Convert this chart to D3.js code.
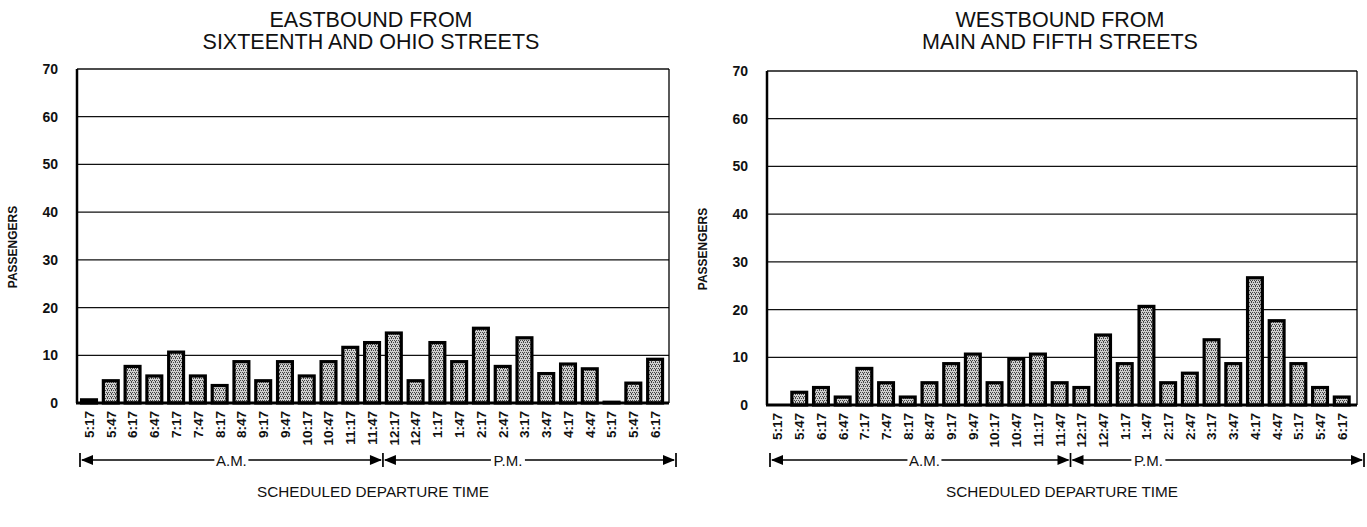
<!DOCTYPE html>
<html>
<head>
<meta charset="utf-8">
<script src="https://cdn.jsdelivr.net/npm/d3@7"></script>
<style>
  html, body { margin: 0; padding: 0; background: #fff; }
  svg { display: block; }
</style>
</head>
<body>
<svg id="chart" width="1367" height="527"></svg>
<script>
// ---- DATA ----
const categories = ["5:17","5:47","6:17","6:47","7:17","7:47","8:17","8:47","9:17","9:47","10:17","10:47","11:17","11:47",
                    "12:17","12:47","1:17","1:47","2:17","2:47","3:17","3:47","4:17","4:47","5:17","5:47","6:17"];
const eastboundValues = [1, 5, 8, 6, 11, 6, 4, 9, 5, 9, 6, 9, 12, 13, 15, 5, 13, 9, 16, 8, 14, 6.5, 8.5, 7.5, 0.5, 4.5, 9.5];
const westboundValues = [0, 3, 4, 2, 8, 5, 2, 5, 9, 11, 5, 10, 11, 5, 4, 15, 9, 21, 5, 7, 14, 9, 27, 18, 9, 4, 2];
const yTicks = [0, 10, 20, 30, 40, 50, 60, 70];
const eastboundTitle = ["EASTBOUND FROM", "SIXTEENTH AND OHIO STREETS"];
const westboundTitle = ["WESTBOUND FROM", "MAIN AND FIFTH STREETS"];
const yAxisTitle = "PASSENGERS";
const xAxisTitle = "SCHEDULED DEPARTURE TIME";
const periodLabels = ["A.M.", "P.M."];
const pmStartIndex = 14;

// ---- LAYOUT ----
const panels = [
  { left: 77,  right: 669,  top: 69, bottom: 403, title: eastboundTitle, values: eastboundValues, yTitleX: 17, align: 0.38, labelPos: [0.254, 0.718] },
  { left: 767, right: 1357, top: 71, bottom: 405, title: westboundTitle, values: westboundValues, yTitleX: 707, align: 0.2, labelPos: [0.26, 0.637] }
];

const svg = d3.select("#chart");
const defs = svg.append("defs");
const pat = defs.append("pattern").attr("id", "stipple").attr("patternUnits", "userSpaceOnUse")
  .attr("width", 4).attr("height", 4);
pat.append("rect").attr("width", 4).attr("height", 4).attr("fill", "#cfcfcf");
[[0,0],[2,0],[1,2],[3,2],[3,1]].forEach(([x,y]) => pat.append("rect").attr("x", x).attr("y", y).attr("width", 1).attr("height", 1).attr("fill", "#444"));

const bodyFont = "'Liberation Sans', Arial, Helvetica, sans-serif";

panels.forEach(p => {
  const g = svg.append("g");
  const x = d3.scaleBand().domain(d3.range(categories.length)).range([p.left, p.right])
    .paddingInner(0.17).paddingOuter(0.18).align(p.align);
  const y = d3.scaleLinear().domain([0, 70]).range([p.bottom, p.top]);
  const cx = (p.left + p.right) / 2;

  // title
  p.title.forEach((t, i) => {
    g.append("text").attr("x", cx - 2).attr("y", 27 + i * 22)
      .attr("text-anchor", "middle").attr("font-family", bodyFont).attr("font-size", 21.5)
      .attr("fill", "#111").text(t);
  });

  // gridlines
  g.append("g").selectAll("line").data(yTicks.filter(d => d > 0)).join("line")
    .attr("x1", p.left).attr("x2", p.right)
    .attr("y1", d => y(d)).attr("y2", d => y(d))
    .attr("stroke", "#111").attr("stroke-width", d => d === 70 ? 1.6 : 1.3);

  // y tick labels via axis
  const yAxis = d3.axisLeft(y).tickValues(yTicks).tickSize(0).tickPadding(19);
  const ya = g.append("g").attr("transform", `translate(${p.left},0)`).call(yAxis);
  ya.select(".domain").remove();
  ya.selectAll("text").attr("font-family", bodyFont).attr("font-size", 14).attr("font-weight", "bold").attr("fill", "#111");

  // frame
  g.append("line").attr("x1", p.left).attr("x2", p.left).attr("y1", p.top).attr("y2", p.bottom)
    .attr("stroke", "#000").attr("stroke-width", 2.5);
  g.append("line").attr("x1", p.right).attr("x2", p.right).attr("y1", p.top).attr("y2", p.bottom)
    .attr("stroke", "#000").attr("stroke-width", 1.3);

  // bars
  const sw = 3.2;
  g.append("g").selectAll("rect").data(p.values.map((v, i) => ({ v, i }))).join("rect")
    .filter(d => d.v > 0)
    .attr("x", d => x(d.i) + sw / 2)
    .attr("width", x.bandwidth() - sw)
    .attr("y", d => y(d.v) + sw / 2)
    .attr("height", d => Math.max(0, y(0) - y(d.v) - sw / 2))
    .attr("fill", "url(#stipple)")
    .attr("stroke", "#000").attr("stroke-width", sw);

  // baseline
  g.append("line").attr("x1", p.left - 1).attr("x2", p.right).attr("y1", y(0)).attr("y2", y(0))
    .attr("stroke", "#000").attr("stroke-width", 3);

  // x tick labels via axis
  const xAxis = d3.axisBottom(x).tickFormat(i => categories[i]).tickSize(0).tickPadding(0);
  const xa = g.append("g").attr("transform", `translate(0,${p.bottom + 8})`).call(xAxis);
  xa.select(".domain").remove();
  xa.selectAll("text")
    .attr("font-family", bodyFont).attr("font-size", 13.5).attr("font-weight", "bold").attr("fill", "#111")
    .attr("transform", "rotate(-90)")
    .attr("text-anchor", "end").attr("x", 0).attr("y", 0).attr("dy", "0.36em");

  // y axis title
  g.append("text").attr("transform", `translate(${p.yTitleX},${(p.top + p.bottom) / 2 + 11}) rotate(-90)`)
    .attr("text-anchor", "middle").attr("font-family", bodyFont).attr("font-size", 12).attr("font-weight", "bold")
    .attr("fill", "#111").text(yAxisTitle);

  // period arrows
  const ay = 460;
  const xStart = p.left + 3, xEnd = p.right + 7;
  const xMid = x(pmStartIndex) - x.step() * x.paddingInner() / 2;
  const ag = g.append("g").attr("stroke", "#000").attr("fill", "#000");
  [xStart, xMid, xEnd].forEach(xx => ag.append("line").attr("x1", xx).attr("x2", xx).attr("y1", ay - 7).attr("y2", ay + 7).attr("stroke-width", 1.7));
  const labelX = p.labelPos.map(f => xStart + f * (xEnd - xStart));
  const segs = [[xStart, xMid, periodLabels[0], labelX[0]], [xMid, xEnd, periodLabels[1], labelX[1]]];
  segs.forEach(([a, b, lab, m]) => {
    const tw = lab.length * 7.5 + 2;
    ag.append("line").attr("x1", a + 2).attr("x2", m - tw / 2 - 1).attr("y1", ay).attr("y2", ay).attr("stroke-width", 1.7);
    ag.append("line").attr("x1", m + tw / 2 + 1).attr("x2", b - 2).attr("y1", ay).attr("y2", ay).attr("stroke-width", 1.7);
    ag.append("path").attr("d", `M${a + 1},${ay} l12,-5 v10 z`).attr("stroke", "none");
    ag.append("path").attr("d", `M${b - 1},${ay} l-12,-5 v10 z`).attr("stroke", "none");
    g.append("text").attr("x", m).attr("y", ay + 5.5).attr("text-anchor", "middle")
      .attr("font-family", bodyFont).attr("font-size", 15).attr("fill", "#111").text(lab);
  });

  // x axis title
  g.append("text").attr("x", cx).attr("y", 497).attr("text-anchor", "middle")
    .attr("font-family", bodyFont).attr("font-size", 15.3).attr("fill", "#111").text(xAxisTitle);
});
</script>
</body>
</html>
